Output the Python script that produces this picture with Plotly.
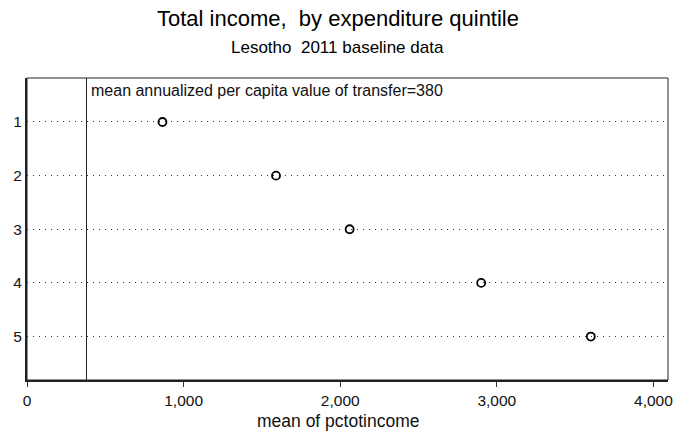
import plotly.graph_objects as go

# Expenditure quintiles and their mean per capita total income
quintiles = [1, 2, 3, 4, 5]
mean_income = [865, 1590, 2060, 2900, 3600]
x_ticks = [0, 1000, 2000, 3000, 4000]
x_tick_labels = ["0", "1,000", "2,000", "3,000", "4,000"]
transfer_value = 380

FONT = "Liberation Sans, Arial, sans-serif"
PLOT_TOP, PLOT_BOTTOM = 78, 380
PLOT_H = PLOT_BOTTOM - PLOT_TOP


def paper_y(px):
    """Convert a pixel row of the page to paper coordinates."""
    return (PLOT_BOTTOM - px) / PLOT_H


fig = go.Figure()
fig.add_trace(go.Scatter(
    x=mean_income,
    y=quintiles,
    mode="markers",
    marker=dict(symbol="circle-open", size=8, color="black", line=dict(width=1.8, color="black")),
    showlegend=False,
    hoverinfo="x+y",
))

# Vertical reference line at the transfer value
fig.add_shape(type="line", xref="x", yref="paper", x0=transfer_value, x1=transfer_value,
              y0=0, y1=1, line=dict(color="#222", width=1))
fig.add_annotation(xref="x", yref="paper", x=transfer_value, y=paper_y(90), xanchor="left", yanchor="middle",
                   xshift=2, showarrow=False,
                   text="mean annualized per capita value of transfer=" + str(transfer_value),
                   font=dict(family=FONT, size=16, color="#111"))

# Thin frame for top and right edges
fig.add_shape(type="rect", xref="paper", yref="paper", x0=0, x1=1, y0=0, y1=1,
              line=dict(color="#222", width=1), layer="above")

# Title, subtitle and x-axis title
fig.add_annotation(xref="paper", yref="paper", x=0.485, y=paper_y(18), xanchor="center", yanchor="middle",
                   showarrow=False, text="Total income,&nbsp; by expenditure quintile",
                   font=dict(family=FONT, size=22, color="black"))
fig.add_annotation(xref="paper", yref="paper", x=0.485, y=paper_y(48), xanchor="center", yanchor="middle",
                   showarrow=False, text="Lesotho&nbsp; 2011 baseline data",
                   font=dict(family=FONT, size=17, color="black"))
fig.add_annotation(xref="paper", yref="paper", x=0.485, y=paper_y(421), xanchor="center", yanchor="middle",
                   showarrow=False, text="mean of pctotincome",
                   font=dict(family=FONT, size=17.5, color="#111"))

fig.update_layout(
    width=679, height=432,
    margin=dict(l=27, r=6, t=PLOT_TOP, b=432 - PLOT_BOTTOM),
    paper_bgcolor="white", plot_bgcolor="white",
    font=dict(family=FONT, color="black"),
)

fig.update_xaxes(
    range=[0, 4093], tickvals=x_ticks, ticktext=x_tick_labels,
    showgrid=False, zeroline=False,
    showline=True, linecolor="#222", linewidth=2,
    ticks="outside", ticklen=5, tickcolor="#333", tickwidth=1,
    tickfont=dict(family=FONT, size=15.5, color="#111"),
)
fig.update_yaxes(
    range=[5.81, 0.18], tickvals=quintiles, ticktext=[str(q) for q in quintiles],
    showgrid=True, gridcolor="#333", gridwidth=1, griddash="1px,5px",
    zeroline=False,
    showline=True, linecolor="#222", linewidth=2,
    ticks="", ticklabelstandoff=0,
    tickfont=dict(family=FONT, size=15.5, color="#111"),
)

fig.write_html("out.html")
